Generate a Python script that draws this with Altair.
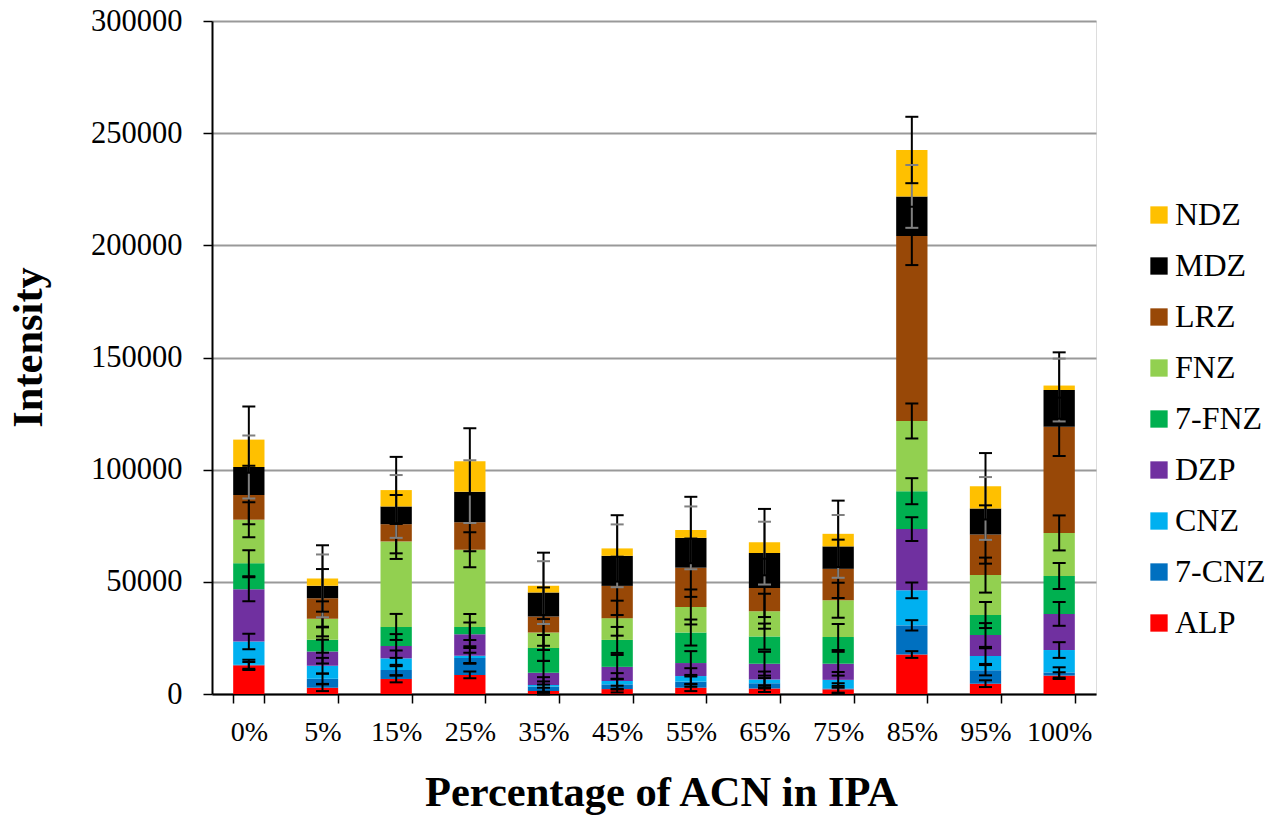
import altair as alt
import pandas as pd

FONT = "Liberation Serif"

categories = ["0%", "5%", "15%", "25%", "35%", "45%", "55%", "65%", "75%", "85%", "95%", "100%"]
series = ["ALP", "7-CNZ", "CNZ", "DZP", "7-FNZ", "FNZ", "LRZ", "MDZ", "NDZ"]
legend_order = ["NDZ", "MDZ", "LRZ", "FNZ", "7-FNZ", "DZP", "CNZ", "7-CNZ", "ALP"]

ALP   = [12800, 2800, 6700, 8500, 1300, 2200, 2800, 2400, 2100, 17600, 4600, 8200]
CNZ7  = [200, 4000, 4000, 7600, 2000, 2100, 2700, 2400, 400, 13000, 6000, 1400]
CNZ   = [10400, 5800, 5200, 900, 700, 1500, 2500, 1700, 3800, 15600, 6300, 10000]
DZP   = [23300, 6300, 5500, 9600, 5500, 6300, 5800, 7000, 7200, 27300, 9400, 16100]
FNZ7  = [11600, 5300, 8500, 3300, 11000, 12000, 13600, 12100, 11900, 16900, 8900, 16900]
FNZ   = [19400, 9300, 38100, 34400, 6900, 9700, 11400, 11300, 16400, 31300, 17800, 19200]
LRZ   = [11000, 9200, 7700, 12300, 7100, 14400, 17500, 10400, 14000, 82500, 18100, 47300]
MDZ   = [12500, 5500, 7900, 13600, 10700, 13400, 13300, 15500, 10000, 17600, 11600, 16400]
NDZ   = [12200, 3300, 7300, 13500, 3000, 3300, 3500, 4900, 5600, 20700, 9900, 2000]

# standard-error bars (same size for every point of a series)
errors = [1500, 2300, 3500, 5300, 5800, 7800, 13000, 14000, 14800]

colors = ["#FF0000", "#0070C0", "#00B0F0", "#7030A0", "#00B050", "#92D050", "#984807", "#000000", "#FFC000"]

values = [ALP, CNZ7, CNZ, DZP, FNZ7, FNZ, LRZ, MDZ, NDZ]

rows = []
for i, c in enumerate(categories):
    cum = 0
    for k, s in enumerate(series):
        v = values[k][i]
        lo, hi = cum, cum + v
        cum = hi
        e = errors[k]
        rows.append(dict(cat=c, series=s, k=k, lo=lo, hi=hi, elo=hi - e, ehi=hi + e))
df = pd.DataFrame(rows).sort_values("k")
caps = df.melt(id_vars=["cat", "series", "k"], value_vars=["elo", "ehi"], value_name="yc").sort_values("k")

color_map = dict(zip(series, colors))

x_axis = alt.Axis(
    title="Percentage of ACN in IPA", labelAngle=0, tickBand="extent", ticks=True, tickSize=9,
    tickColor="black", tickWidth=1.5, domainColor="black", domainWidth=2,
    labelFont=FONT, labelFontSize=28, labelColor="black", labelBaseline="alphabetic", labelPadding=37,
    titleFont=FONT, titleFontSize=42.5, titleFontWeight="bold", titleColor="black",
    titleX=449, titleY=111, titleBaseline="alphabetic", titleAlign="center",
)
y_axis = alt.Axis(
    title="Intensity", values=[0, 50000, 100000, 150000, 200000, 250000, 300000], format="d",
    grid=True, gridColor="#999999", gridWidth=2, tickSize=9, tickColor="black", tickWidth=1.5,
    domainColor="black", domainWidth=2, labelFont=FONT, labelFontSize=30.5, labelColor="black",
    labelPadding=21, titleFont=FONT, titleFontSize=42.5, titleFontWeight="bold", titleColor="black",
    titleX=-171, titleY=326, titleBaseline="alphabetic", titleAlign="center", titleAngle=270,
)

xscale = alt.Scale(domain=categories, paddingInner=0.575, paddingOuter=0.2875)
yscale = alt.Scale(domain=[0, 300000], nice=False)

bars = alt.Chart(df).mark_bar(strokeWidth=0).encode(
    x=alt.X("cat:N", sort=categories, scale=xscale, axis=x_axis),
    y=alt.Y("lo:Q", scale=yscale, axis=y_axis),
    y2="hi:Q",
    color=alt.Color(
        "series:N",
        scale=alt.Scale(domain=legend_order, range=[color_map[s] for s in legend_order]),
        legend=alt.Legend(
            title=None, orient="none", legendX=931, legendY=178, symbolType="square",
            symbolSize=300, symbolStrokeWidth=0, labelFont=FONT, labelFontSize=32,
            labelColor="black", rowPadding=19, labelOffset=0, padding=0,
        ),
    ),
)

err_color = alt.condition(alt.datum.series == "MDZ", alt.value("#808080"), alt.value("#000000"))

rules = alt.Chart(df).mark_rule(strokeWidth=2).encode(
    x=alt.X("cat:N", sort=categories, scale=xscale),
    y=alt.Y("elo:Q", scale=yscale),
    y2="ehi:Q",
    color=err_color,
)

ticks = alt.Chart(caps).mark_tick(size=13, thickness=2, opacity=1).encode(
    x=alt.X("cat:N", sort=categories, scale=xscale),
    y=alt.Y("yc:Q", scale=yscale),
    color=err_color,
)

chart = (
    alt.layer(bars, rules, ticks)
    .properties(
        width=884, height=673,
        padding={"left": 212, "top": 21, "right": 183, "bottom": 123},
        autosize=alt.AutoSizeParams(type="none"),
    )
    .configure_view(stroke="black", strokeWidth=2)
    .configure(font=FONT)
)

chart.save("out.html", embed_options={"renderer": "svg", "actions": False})
